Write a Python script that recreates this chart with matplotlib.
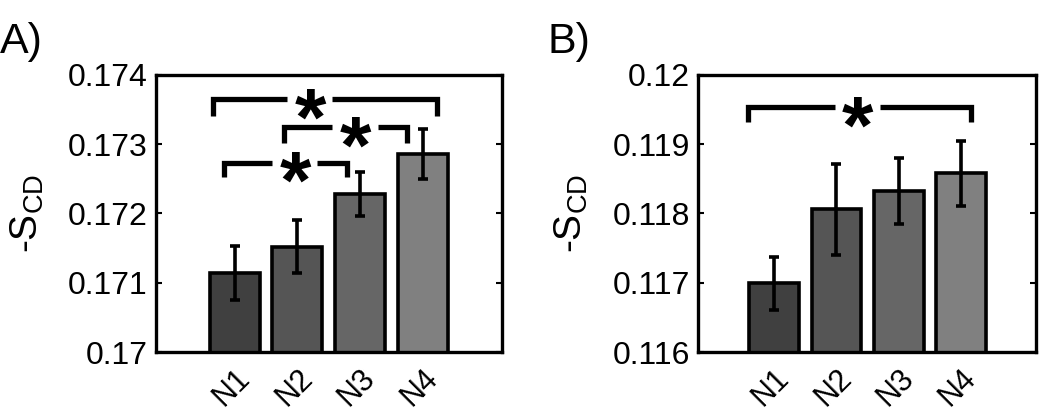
import matplotlib.pyplot as plt
from matplotlib.transforms import ScaledTranslation

plt.rcParams["font.family"] = ["Liberation Sans", "DejaVu Sans"]
plt.rcParams["mathtext.fontset"] = "custom"
plt.rcParams["mathtext.rm"] = "Liberation Sans"
plt.rcParams["mathtext.it"] = "Liberation Sans:italic"

# 데이터
groups = ["N1", "N2", "N3", "N4"]
bar_colors = ["#404040", "#555555", "#666666", "#808080"]

a_mean = [0.17114, 0.17152, 0.17228, 0.17286]
a_err = [0.00039, 0.00038, 0.00032, 0.00036]
b_mean = [0.116993, 0.118061, 0.118327, 0.118584]
b_err = [0.00038, 0.00066, 0.00048, 0.00047]

a_yticks = [0.170, 0.171, 0.172, 0.173, 0.174]
a_ylabels = ["0.17", "0.171", "0.172", "0.173", "0.174"]
b_yticks = [0.116, 0.117, 0.118, 0.119, 0.120]
b_ylabels = ["0.116", "0.117", "0.118", "0.119", "0.12"]

# 유의성 괄호: (왼쪽 x, 오른쪽 x, 높이, 다리 끝, 별 위치)
a_br_x1 = [0.65, 1.78, 0.82]
a_br_x2 = [4.23, 3.75, 2.80]
a_br_y = [0.173651, 0.173244, 0.172735]
a_br_leg = [0.173404, 0.173011, 0.172531]
a_star_x = [2.20, 2.92, 1.96]

b_br_x1 = [0.58]
b_br_x2 = [4.15]
b_br_y = [0.119535]
b_br_leg = [0.119316]
b_star_x = [2.33]

STAR_GAP = 0.36
STAR_SIZE = 58


def draw_panel(fig, ax, means, errs, yticks, ylabels, xlim, bx1, bx2, by, bleg, sx):
    xs = range(1, len(groups) + 1)
    ax.bar(xs, means, width=0.8, color=bar_colors, edgecolor="black",
           linewidth=2.6, zorder=2)
    ax.errorbar(xs, means, yerr=errs, fmt="none", ecolor="black",
                elinewidth=2.6, capsize=3.8, capthick=2.6, zorder=3)

    # 별표는 글리프 중심이 선 높이에 오도록 아래로 이동
    star_shift = ax.transData + ScaledTranslation(0, -0.56 * STAR_SIZE / 72,
                                                  fig.dpi_scale_trans)
    for x1, x2, y, yl, s in zip(bx1, bx2, by, bleg, sx):
        ax.plot([x1, x1, s - STAR_GAP], [yl, y, y], color="black",
                linewidth=3.8, solid_capstyle="butt", solid_joinstyle="miter", zorder=4)
        ax.plot([s + STAR_GAP, x2, x2], [y, y, yl], color="black",
                linewidth=3.8, solid_capstyle="butt", solid_joinstyle="miter", zorder=4)
        ax.text(s, y, "*", fontsize=STAR_SIZE, fontweight="bold", ha="center",
                va="baseline", transform=star_shift, zorder=5)

    ax.set_xlim(*xlim)
    ax.set_ylim(yticks[0], yticks[-1])
    ax.set_yticks(yticks)
    ax.set_yticklabels(ylabels)
    ax.set_xticks(list(xs))
    ax.set_xticklabels(groups, rotation=45, ha="right", va="top",
                       rotation_mode="anchor")
    shift = ScaledTranslation(12 / 72, 0, fig.dpi_scale_trans)
    for lab in ax.get_xticklabels():
        lab.set_transform(lab.get_transform() + shift)
    ax.tick_params(axis="y", direction="in", length=4, width=1.5,
                   labelsize=23, pad=6, right=True)
    ax.tick_params(axis="x", length=0, labelsize=22, pad=8)
    for sp in ax.spines.values():
        sp.set_linewidth(2.4)
    ax.set_ylabel("-S$_{\\rm CD}$", fontsize=28, labelpad=16)


fig = plt.figure(figsize=(10.5, 4.15), dpi=100)
ax_a = fig.add_axes([0.1486, 0.1518, 0.3295, 0.6675])
ax_b = fig.add_axes([0.6648, 0.1518, 0.3219, 0.6675])

draw_panel(fig, ax_a, a_mean, a_err, a_yticks, a_ylabels, (-0.26, 5.27),
           a_br_x1, a_br_x2, a_br_y, a_br_leg, a_star_x)
draw_panel(fig, ax_b, b_mean, b_err, b_yticks, b_ylabels, (-0.22, 5.20),
           b_br_x1, b_br_x2, b_br_y, b_br_leg, b_star_x)

fig.text(0.0, 0.872, "A)", fontsize=31, ha="left", va="baseline")
fig.text(0.521, 0.872, "B)", fontsize=31, ha="left", va="baseline")

fig.savefig("out.png", dpi=100, facecolor="white")
